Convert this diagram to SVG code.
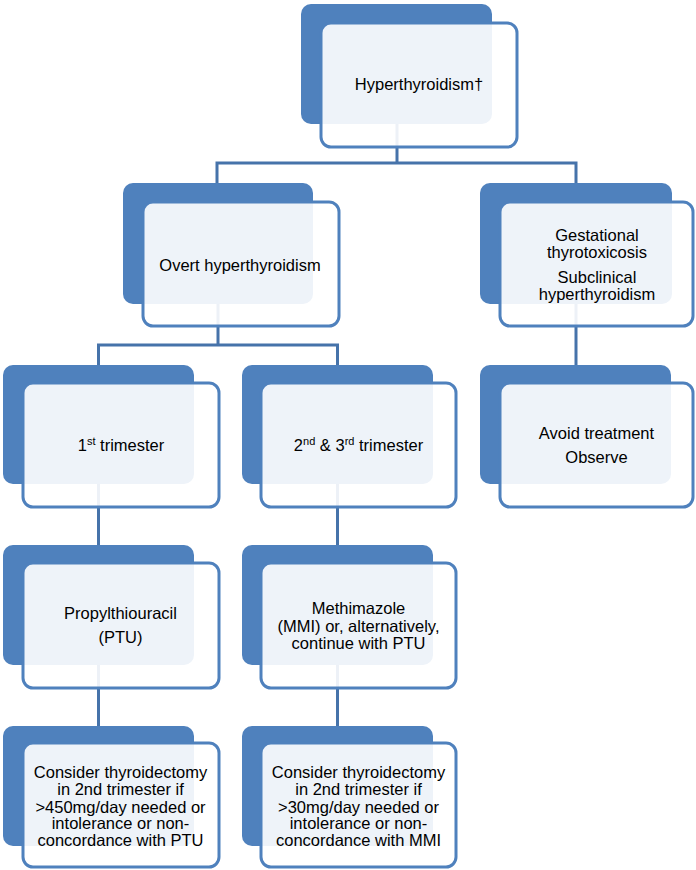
<svg xmlns="http://www.w3.org/2000/svg" width="696" height="870" viewBox="0 0 696 870">
<style>
.back{fill:#4F81BD;}
.front{fill:#FFFFFF;fill-opacity:0.9;stroke:#4F81BD;stroke-width:3;}
.conn{fill:none;stroke:#4673AA;stroke-width:3;}
text{font-family:"Liberation Sans",Arial,sans-serif;font-size:16.5px;fill:#000;text-anchor:middle;}
.sup{font-size:11px;}
</style>
<rect width="696" height="870" fill="#FFFFFF"/>
<g id="connectors">
<path class="conn" d="M397,64 V163"/>
<path class="conn" d="M217,183 V163 H576 V183"/>
<path class="conn" d="M218,243 V345"/>
<path class="conn" d="M98.5,365 V345 H337.5 V365"/>
<path class="conn" d="M576,243 V365"/>
<path class="conn" d="M98.5,424 V545"/>
<path class="conn" d="M337.5,424 V545"/>
<path class="conn" d="M98.5,605 V726"/>
<path class="conn" d="M337.5,605 V726"/>
</g>
<g id="hyperthyroidism">
<rect class="back" x="301" y="4" width="191" height="120" rx="10"/>
<rect class="front" x="321" y="23" width="196" height="124" rx="10"/>
<text x="419" y="89.5">Hyperthyroidism†</text>
</g>
<g id="overt">
<rect class="back" x="123" y="183" width="190" height="121" rx="10"/>
<rect class="front" x="143" y="202" width="196" height="124" rx="10"/>
<text x="240" y="271">Overt hyperthyroidism</text>
</g>
<g id="gestational">
<rect class="back" x="480" y="183" width="192" height="121" rx="10"/>
<rect class="front" x="500" y="202" width="193" height="124" rx="10"/>
<text x="597" y="240.5">Gestational</text>
<text x="597" y="257.5">thyrotoxicosis</text>
<text x="597" y="282.5">Subclinical</text>
<text x="597" y="299.5">hyperthyroidism</text>
</g>
<g id="first-trimester">
<rect class="back" x="3" y="365" width="191" height="119" rx="10"/>
<rect class="front" x="23" y="383" width="196" height="124" rx="10"/>
<text x="121" y="451">1<tspan class="sup" baseline-shift="super">st</tspan> trimester</text>
</g>
<g id="second-third-trimester">
<rect class="back" x="242" y="365" width="191" height="119" rx="10"/>
<rect class="front" x="261" y="383" width="195" height="124" rx="10"/>
<text x="358.5" y="451">2<tspan class="sup" baseline-shift="super">nd</tspan> &amp; 3<tspan class="sup" baseline-shift="super">rd</tspan> trimester</text>
</g>
<g id="avoid-treatment">
<rect class="back" x="480" y="365" width="191" height="119" rx="10"/>
<rect class="front" x="500" y="383" width="193" height="124" rx="10"/>
<text x="596.5" y="438.5">Avoid treatment</text>
<text x="596.5" y="462.5">Observe</text>
</g>
<g id="ptu">
<rect class="back" x="3" y="545" width="191" height="120" rx="10"/>
<rect class="front" x="23" y="563" width="196" height="125" rx="10"/>
<text x="120.5" y="619">Propylthiouracil</text>
<text x="120.5" y="643">(PTU)</text>
</g>
<g id="mmi">
<rect class="back" x="242" y="545" width="191" height="120" rx="10"/>
<rect class="front" x="261" y="563" width="195" height="125" rx="10"/>
<text x="358.5" y="614">Methimazole</text>
<text x="358.5" y="631.5">(MMI) or, alternatively,</text>
<text x="358.5" y="649">continue with PTU</text>
</g>
<g id="thyroidectomy-ptu">
<rect class="back" x="3" y="726" width="191" height="120" rx="10"/>
<rect class="front" x="23" y="743" width="196" height="124" rx="10"/>
<text x="120.5" y="777.5">Consider thyroidectomy</text>
<text x="120.5" y="795">in 2nd trimester if</text>
<text x="120.5" y="812.5">&gt;450mg/day needed or</text>
<text x="120.5" y="829">intolerance or non-</text>
<text x="120.5" y="846">concordance with PTU</text>
</g>
<g id="thyroidectomy-mmi">
<rect class="back" x="242" y="726" width="191" height="120" rx="10"/>
<rect class="front" x="261" y="743" width="195" height="124" rx="10"/>
<text x="358.5" y="777.5">Consider thyroidectomy</text>
<text x="358.5" y="795">in 2nd trimester if</text>
<text x="358.5" y="812.5">&gt;30mg/day needed or</text>
<text x="358.5" y="829">intolerance or non-</text>
<text x="358.5" y="846">concordance with MMI</text>
</g>
</svg>
